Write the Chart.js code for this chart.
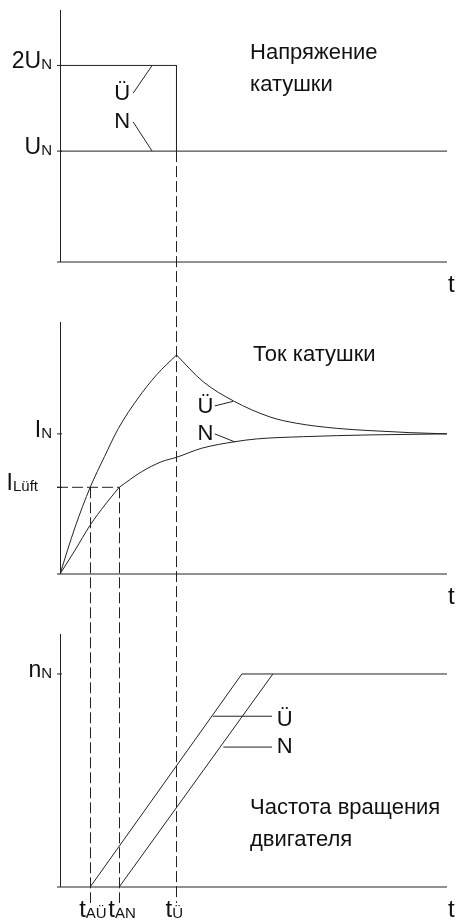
<!DOCTYPE html>
<html><head><meta charset="utf-8">
<script src="https://cdn.jsdelivr.net/npm/chart.js@4.4.1/dist/chart.umd.min.js"></script>
<style>html,body{margin:0;padding:0;background:#fff;}canvas{display:block;}</style>
</head><body>
<canvas id="c" width="459" height="920"></canvas>
<script>
// ---------- DATA (time in arbitrary units, levels in % of axis height) ----------
const tAU = 0.78, tAN = 1.53, tU = 3.01, tEnd = 10;
const timeMarks = [tAU, tAN, tU];
const timeMarkLabels = [['t', 'AÜ'], ['t', 'AN'], ['t', 'Ü']];

// Panel 1: coil voltage
const voltLevels = [78, 44];
const voltLabels = [['2U', 'N'], ['U', 'N']];
const voltOverT = [0, 3.01, 3.01];
const voltOverV = [78, 78, 44];
const voltNormT = [0, 10];
const voltNormV = [44, 44];
const voltLeadOverT = [1.89, 2.38];
const voltLeadOverV = [67, 78];
const voltLeadNormT = [1.89, 2.38];
const voltLeadNormV = [55.6, 44];

// Panel 2: coil current
const currLevels = [55.6, 34.4];
const currLabels = [['I', 'N'], ['I', 'Lüft']];
const currOverRiseT = [0, 0.39, 0.78, 1.15, 1.51, 2.0, 2.5, 3.01];
const currOverRiseV = [0, 18.6, 34.4, 46.6, 57.8, 69.4, 79.1, 86.9];
const currOverFallT = [3.01, 3.70, 4.48, 5.43, 6.12, 7.15, 8.01, 9.04, 10];
const currOverFallV = [86.9, 76.3, 68.7, 62.3, 59.8, 57.8, 56.9, 56.1, 55.6];
const currNormRiseT = [0, 0.39, 0.78, 1.16, 1.53];
const currNormRiseV = [0, 9.5, 19.4, 27.4, 34.4];
const currNormSetT = [1.53, 2.11, 2.63, 3.01, 3.66, 4.52, 5.08, 6.29, 7.15, 8.01, 10];
const currNormSetV = [34.4, 40.6, 44.6, 46.3, 49.9, 52.5, 53.6, 54.5, 54.9, 55.2, 55.6];
const currLeadOverT = [4.0, 4.47];
const currLeadOverV = [66.7, 68.5];
const currLeadNormT = [4.0, 4.52];
const currLeadNormV = [55.6, 52.4];

// Panel 3: motor speed
const speedLevels = [84.2];
const speedLabels = [['n', 'N']];
const speedOverT = [0.78, 4.70, 10];
const speedOverV = [0, 84.2, 84.2];
const speedNormT = [1.53, 5.50];
const speedNormV = [0, 84.2];
const speedLeadOverT = [3.95, 5.48];
const speedLeadOverV = [67.5, 67.5];
const speedLeadNormT = [4.22, 5.48];
const speedLeadNormV = [55.3, 55.3];

// ---------- LAYOUT ----------
const H = 920;
const panels = {
  y1: {base: 262, top: 10},
  y2: {base: 574, top: 322},
  y3: {base: 887, top: 634}
};
function yRange(p) {
  const k = (p.base - p.top) / 100;
  return {min: -(H - p.base) / k, max: 100 + p.top / k};
}
const FONT = '"Liberation Sans", Arial, sans-serif';
const INK = '#222';

const pts = (xs, ys) => xs.map((x, i) => ({x: x, y: ys[i]}));
function line(xs, ys, axis, curve) {
  return {
    data: pts(xs, ys), yAxisID: axis, borderColor: INK, borderWidth: 1,
    pointRadius: 0, fill: false, tension: 0,
    cubicInterpolationMode: curve ? 'monotone' : 'default'
  };
}

const datasets = [
  line(voltNormT, voltNormV, 'y1'),
  line(voltOverT, voltOverV, 'y1'),
  line(voltLeadOverT, voltLeadOverV, 'y1'),
  line(voltLeadNormT, voltLeadNormV, 'y1'),
  line(currOverRiseT, currOverRiseV, 'y2', true),
  line(currOverFallT, currOverFallV, 'y2', true),
  line(currNormRiseT, currNormRiseV, 'y2', true),
  line(currNormSetT, currNormSetV, 'y2', true),
  line(currLeadOverT, currLeadOverV, 'y2'),
  line(currLeadNormT, currLeadNormV, 'y2'),
  line(speedOverT, speedOverV, 'y3'),
  line(speedNormT, speedNormV, 'y3'),
  line(speedLeadOverT, speedLeadOverV, 'y3'),
  line(speedLeadNormT, speedLeadNormV, 'y3')
];

function subText(ctx, x, y, main, sub, align, ms, ss, dy) {
  ctx.font = ms + 'px ' + FONT;
  const wm = ctx.measureText(main).width;
  ctx.font = ss + 'px ' + FONT;
  const ws = ctx.measureText(sub).width;
  const x0 = align === 'right' ? x - wm - ws : x;
  ctx.textAlign = 'left';
  ctx.textBaseline = 'alphabetic';
  ctx.font = ms + 'px ' + FONT;
  ctx.fillText(main, x0, y);
  ctx.font = ss + 'px ' + FONT;
  ctx.fillText(sub, x0 + wm, y + dy);
}

const snap = v => Math.floor(v) + 0.5;

const decor = {
  id: 'decor',
  afterDatasetsDraw(chart) {
    const ctx = chart.ctx, xs = chart.scales.x;
    const X = v => xs.getPixelForValue(v);
    ctx.save();
    ctx.strokeStyle = INK;
    ctx.fillStyle = '#111';
    ctx.lineWidth = 1;
    const tickSets = {y1: [voltLevels, voltLabels], y2: [currLevels, currLabels], y3: [speedLevels, speedLabels]};
    Object.keys(panels).forEach(id => {
      const ys = chart.scales[id];
      const Y = v => ys.getPixelForValue(v);
      ctx.beginPath();
      ctx.moveTo(X(0) + 0.5, Y(100));
      ctx.lineTo(X(0) + 0.5, Y(0));
      ctx.moveTo(X(0) - 3, Y(0));
      ctx.lineTo(X(tEnd), Y(0));
      const [lv, lb] = tickSets[id];
      lv.forEach(v => { ctx.moveTo(X(0) - 3, Y(v)); ctx.lineTo(X(0) + 2, Y(v)); });
      ctx.stroke();
      lv.forEach((v, i) => {
        const right = lb[i][1] === 'Lüft' ? X(0) - 22 : X(0) - 8;
        subText(ctx, right, Y(v) + 3, lb[i][0], lb[i][1], 'right', 23, 15, 1);
      });
      ctx.font = '24px ' + FONT;
      ctx.textAlign = 'left';
      ctx.fillText('t', X(tEnd) + 1, Y(0) + 30);
    });
    const y1 = chart.scales.y1, y2 = chart.scales.y2, y3 = chart.scales.y3;
    const bottom = y3.getPixelForValue(-6.3);
    ctx.setLineDash([11, 4]);
    ctx.beginPath();
    ctx.moveTo(snap(X(tU)), y1.getPixelForValue(voltLevels[1]));
    ctx.lineTo(snap(X(tU)), bottom);
    ctx.moveTo(snap(X(tAU)), y2.getPixelForValue(currLevels[1]));
    ctx.lineTo(snap(X(tAU)), bottom);
    ctx.moveTo(snap(X(tAN)), y2.getPixelForValue(currLevels[1]));
    ctx.lineTo(snap(X(tAN)), bottom);
    ctx.moveTo(X(0) - 3, y2.getPixelForValue(currLevels[1]));
    ctx.lineTo(X(tAN), y2.getPixelForValue(currLevels[1]));
    ctx.stroke();
    ctx.setLineDash([]);
    timeMarks.forEach((t, i) => {
      subText(ctx, X(t) - 11, y3.getPixelForValue(0) + 30, timeMarkLabels[i][0], timeMarkLabels[i][1], 'left', 24, 15, 1);
    });
    ctx.font = '22px ' + FONT;
    ctx.textAlign = 'left';
    const txt = (s, t, v, sc) => ctx.fillText(s, X(t), chart.scales[sc].getPixelForValue(v));
    txt('Ü', 1.40, 64.3, 'y1');
    txt('N', 1.40, 53.2, 'y1');
    txt('Ü', 3.55, 63.9, 'y2');
    txt('N', 3.55, 53.2, 'y2');
    txt('Ü', 5.60, 63.6, 'y3');
    txt('N', 5.60, 53.0, 'y3');
    txt('Напряжение', 4.91, 80.6, 'y1');
    txt('катушки', 4.91, 67.9, 'y1');
    txt('Ток катушки', 4.99, 84.5, 'y2');
    txt('Частота вращения', 4.91, 28.9, 'y3');
    txt('двигателя', 4.91, 16.2, 'y3');
    ctx.restore();
  }
};

const r1 = yRange(panels.y1), r2 = yRange(panels.y2), r3 = yRange(panels.y3);
new Chart(document.getElementById('c'), {
  type: 'line',
  data: {datasets: datasets},
  options: {
    responsive: false, animation: false, events: [],
    layout: {padding: {left: 60, right: 12, top: 0, bottom: 0}},
    plugins: {legend: {display: false}, tooltip: {enabled: false}},
    scales: {
      x: {type: 'linear', min: 0, max: tEnd, display: false},
      y1: {type: 'linear', min: r1.min, max: r1.max, display: false},
      y2: {type: 'linear', min: r2.min, max: r2.max, display: false},
      y3: {type: 'linear', min: r3.min, max: r3.max, display: false}
    }
  },
  plugins: [decor]
});
</script>
</body></html>
